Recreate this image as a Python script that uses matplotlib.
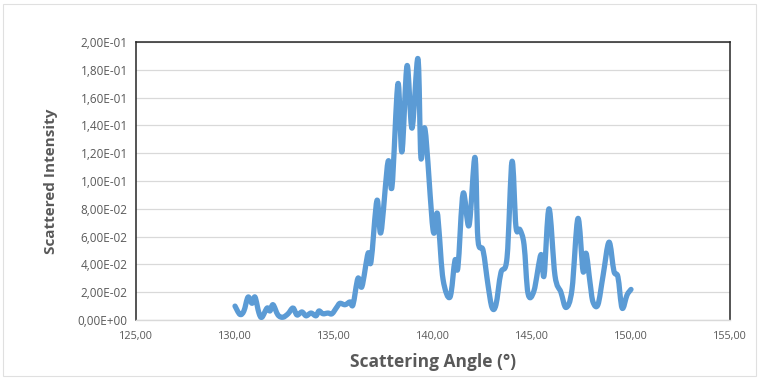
import numpy as np
import matplotlib
matplotlib.use("Agg")
import matplotlib.pyplot as plt
from matplotlib.path import Path
from matplotlib.patches import PathPatch, Rectangle
from matplotlib.ticker import FuncFormatter

# Scattering angle (degrees) and scattered intensity
angle = [130.00, 130.25, 130.45, 130.66, 130.86, 131.01, 131.21, 131.36, 131.62, 131.77,
         131.92, 132.17, 132.42, 132.68, 132.93, 133.13, 133.38, 133.59, 133.84, 134.09,
         134.24, 134.44, 134.70, 134.90, 135.15, 135.30, 135.56, 135.81, 135.96, 136.21,
         136.41, 136.72, 136.87, 137.17, 137.37, 137.73, 137.93, 138.23, 138.43, 138.69,
         138.94, 139.24, 139.39, 139.60, 140.00, 140.20, 140.30, 140.51, 140.86, 141.11,
         141.26, 141.52, 141.82, 142.12, 142.27, 142.53, 142.78, 142.98, 143.18, 143.43,
         143.74, 143.99, 144.19, 144.39, 144.60, 144.80, 145.10, 145.45, 145.61, 145.86,
         146.16, 146.46, 146.72, 147.02, 147.32, 147.58, 147.73, 147.93, 148.08, 148.33,
         148.59, 148.89, 149.14, 149.34, 149.55, 149.80, 150.00]
intensity = [0.0100, 0.0040, 0.0065, 0.0165, 0.0120, 0.0165, 0.0050, 0.0020, 0.0086, 0.0065,
             0.0110, 0.0036, 0.0020, 0.0045, 0.0086, 0.0036, 0.0058, 0.0030, 0.0050, 0.0030,
             0.0065, 0.0045, 0.0050, 0.0045, 0.0094, 0.0120, 0.0110, 0.0130, 0.0110, 0.0300,
             0.0240, 0.0480, 0.0420, 0.0860, 0.0630, 0.1140, 0.0960, 0.1700, 0.1210, 0.1830,
             0.1380, 0.1880, 0.1170, 0.1370, 0.0650, 0.0770, 0.0650, 0.0290, 0.0165, 0.0430,
             0.0380, 0.0910, 0.0680, 0.1170, 0.0580, 0.0500, 0.0250, 0.0090, 0.0110, 0.0340,
             0.0450, 0.1140, 0.0670, 0.0650, 0.0540, 0.0190, 0.0210, 0.0470, 0.0320, 0.0800,
             0.0320, 0.0200, 0.0090, 0.0220, 0.0730, 0.0350, 0.0480, 0.0270, 0.0130, 0.0110,
             0.0320, 0.0560, 0.0350, 0.0310, 0.0086, 0.0180, 0.0220]

x_ticks = [125, 130, 135, 140, 145, 150, 155]
y_ticks = [0.00, 0.02, 0.04, 0.06, 0.08, 0.10, 0.12, 0.14, 0.16, 0.18, 0.20]

LINE = "#5B9BD5"
TEXT = "#595959"
GRID = "#D9D9D9"


def smooth_path(xs, ys, tension=1 / 6):
    """Cubic Bezier path through the points (Catmull-Rom style smoothing)."""
    pts = np.column_stack([xs, ys])
    n = len(pts)
    verts = [pts[0]]
    codes = [Path.MOVETO]
    for i in range(n - 1):
        p0 = pts[i - 1] if i > 0 else pts[i]
        p1 = pts[i]
        p2 = pts[i + 1]
        p3 = pts[i + 2] if i + 2 < n else pts[i + 1]
        c1 = p1 + (p2 - p0) * tension
        c2 = p2 - (p3 - p1) * tension
        verts += [c1, c2, p2]
        codes += [Path.CURVE4] * 3
    return Path(verts, codes)


def comma_sci(v, pos):
    s = f"{v:.2E}"
    mant, exp = s.split("E")
    sign = "-" if exp[0] == "-" else "+"
    return f"{mant.replace('.', ',')}E{sign}{abs(int(exp)):02d}"


def comma_fixed(v, pos):
    return f"{v:.2f}".replace(".", ",")


plt.rcParams["font.family"] = ["Open Sans", "DejaVu Sans"]

fig = plt.figure(figsize=(7.59, 3.78), dpi=100)
ax = fig.add_axes([136 / 759, 1 - 320 / 378, (730 - 136) / 759, (320 - 42) / 378])

ax.set_xlim(125, 155)
ax.set_ylim(0, 0.2)
ax.set_xticks(x_ticks)
ax.set_yticks(y_ticks)
ax.xaxis.set_major_formatter(FuncFormatter(comma_fixed))
ax.yaxis.set_major_formatter(FuncFormatter(comma_sci))
ax.tick_params(axis="y", length=0, labelsize=8.5, labelcolor=TEXT, pad=6)
ax.tick_params(axis="x", length=0, labelsize=7.8, labelcolor=TEXT, pad=8)

ax.grid(axis="y", color=GRID, linewidth=0.9)
ax.set_axisbelow(True)

for side in ("left", "top", "right"):
    ax.spines[side].set_color("#262626")
    ax.spines[side].set_linewidth(1.1)
ax.spines["bottom"].set_color(GRID)
ax.spines["bottom"].set_linewidth(1.0)

ax.add_patch(PathPatch(smooth_path(angle, intensity), facecolor="none",
                       edgecolor=LINE, linewidth=3.8, capstyle="round",
                       joinstyle="round", zorder=3))

ax.set_xlabel("Scattering Angle (°)", fontsize=12.5, fontweight="bold", color=TEXT, labelpad=8)
ax.set_ylabel("Scattered Intensity", fontsize=11, fontweight="bold", color=TEXT, labelpad=14)

fig.patches.append(Rectangle((0.004, 0.004), 0.992, 0.985, transform=fig.transFigure,
                             fill=False, edgecolor="#E0E0E0", linewidth=0.8))

fig.savefig("out.png", dpi=100)
